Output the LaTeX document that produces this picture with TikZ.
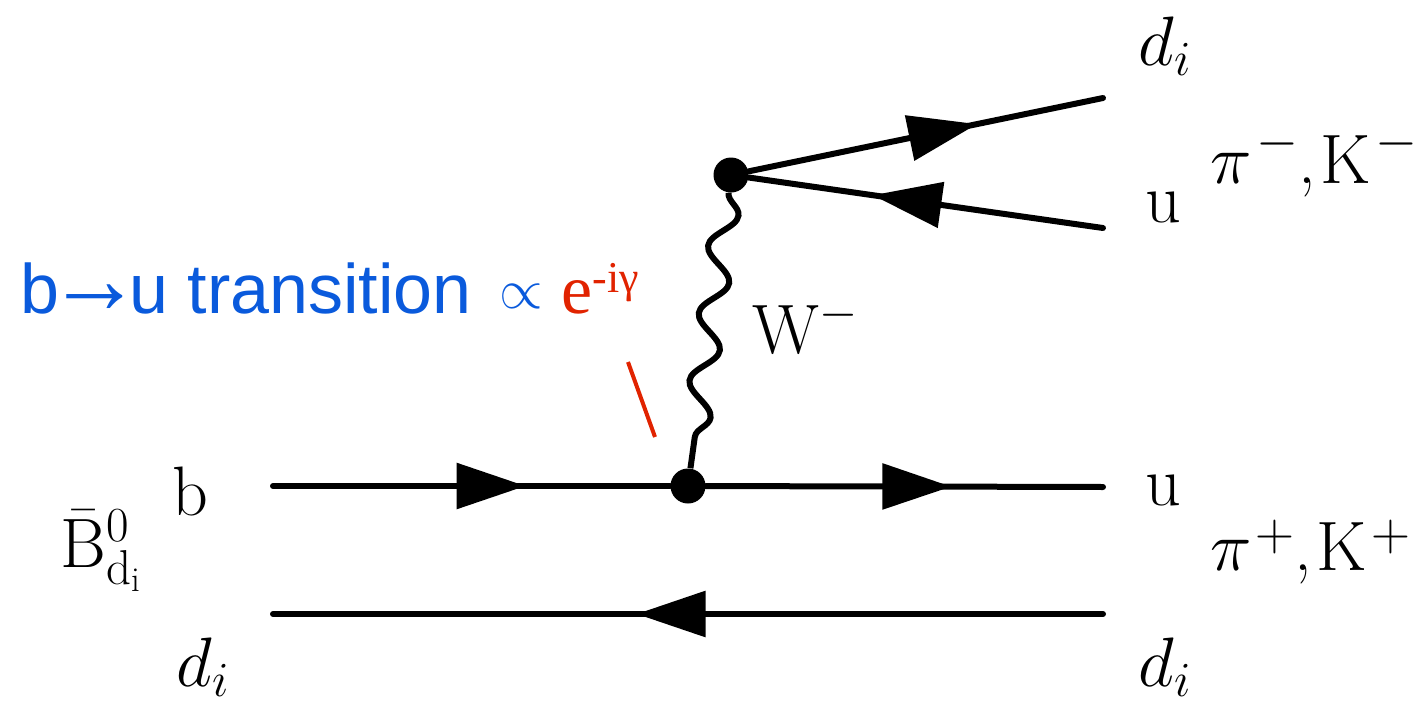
\RequirePackage{fix-cm}
\documentclass[tikz,border=0pt]{standalone}
\usepackage{graphicx}
\usepackage{fontspec}
\newfontfamily\helv{Liberation Sans}
\newfontfamily\tms{Liberation Serif}
\usetikzlibrary{decorations.pathmorphing,decorations.markings,arrows.meta}
\definecolor{tblue}{RGB}{10,90,220}
\definecolor{tred}{RGB}{225,35,0}
\newcommand\supsign[2]{\raisebox{#1}{\fontsize{27}{27}\selectfont$#2$}}
\newcommand\bigarrow{\setbox0\hbox{→}\makebox[\wd0][c]{\scalebox{1.35}[1.45]{→}}}
\begin{document}
\begin{tikzpicture}[x=0.5pt,y=-0.5pt,
  fermion/.style={line width=3pt,line cap=round},
  vtx/.style={circle,fill=black,inner sep=0pt,minimum size=17.5pt},
  lbl/.style={inner sep=0pt,anchor=base west,font=\fontsize{35}{42}\selectfont},
  farrow/.style={postaction={decorate,decoration={markings,mark=at position #1 with {\arrow{Triangle[length=34.5pt,width=22.5pt]}}}}},
  boson/.style={line width=3pt,decorate,decoration={snake,segment length=34pt,amplitude=6.5pt}}
]
\useasboundingbox (0,0) rectangle (1421,702);
\coordinate (bin) at (273,486);
\node[vtx] (v1) at (688,486) {};
\node[vtx] (v2) at (731,175) {};
\coordinate (uout) at (1103,487);
\coordinate (din) at (273,614);
\coordinate (dout) at (1103,614);
\coordinate (dtop) at (1103,98);
\coordinate (utop) at (1103,228);

\draw[fermion,farrow=0.636] (bin) -- (v1);
\draw[fermion,farrow=0.618] (v1) -- (uout);
\draw[fermion,farrow=0.562] (dout) -- (din);
\draw[fermion,farrow=0.645] (v2) -- (dtop);
\draw[fermion,farrow=0.65] (utop) -- (v2);
\draw[boson] (v2) -- (v1);

\node[lbl] (ldtop) at (1138,65) {$d_i$};
\node[lbl] (lutop) at (1145,222) {u};
\node[lbl] (lpim) at (1210,183) {$\pi$\hspace{2.5pt}\supsign{13pt}{-},\hspace{2pt}K\hspace{2.5pt}\supsign{13pt}{-}};
\node[lbl] (lW) at (752,353) {W$^-$};
\node[lbl] (lb) at (172,515) {b};
\node[lbl] (lB) at (60,567) {$\bar{\mathrm{B}}^0_{\mathrm{d_i}}$};
\node[lbl] (ldbl) at (176,686) {$d_i$};
\node[lbl] (lubot) at (1145,505) {u};
\node[lbl] (lpip) at (1210,570) {$\pi$\hspace{2pt}\supsign{10pt}{+},\hspace{2pt}K\hspace{2.5pt}\supsign{10pt}{+}};
\node[lbl] (ldbr) at (1138,686) {$d_i$};

\node[inner sep=0pt,anchor=base west,text=tblue,font=\helv\fontsize{35}{42}\selectfont] (trans) at (20,313) {b\bigarrow u transition};
\node[inner sep=0pt,anchor=base west,text=tblue,font=\fontsize{28}{32}\selectfont] (prop) at (499,313) {\raisebox{2.5pt}{$\propto$}};
\node[inner sep=0pt,anchor=base west,text=tred,font=\tms\fontsize{35}{42}\selectfont] (gam) at (561,313) {e\raisebox{10.5pt}{\fontsize{22}{22}\selectfont -iγ}};
\coordinate (s1) at (628,362);
\coordinate (s2) at (655,437);
\draw[tred,line width=2pt] (s1) -- (s2);
\end{tikzpicture}
\end{document}
